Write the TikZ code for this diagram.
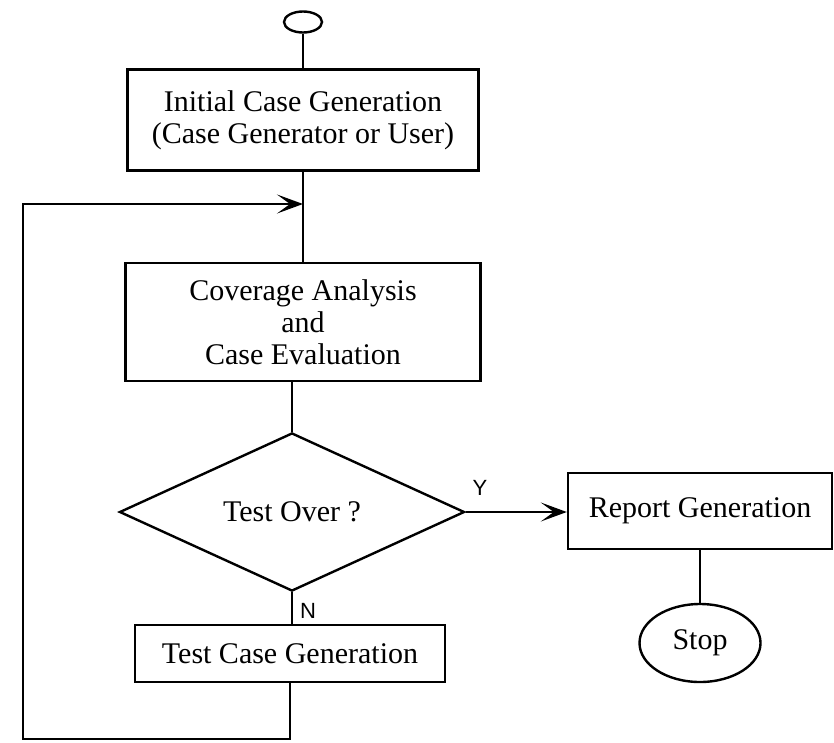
\documentclass[tikz,border=0pt]{standalone}
\usepackage{fontspec}
\setmainfont{Liberation Serif}
\newfontfamily\labelfont{Liberation Sans}
\usetikzlibrary{shapes.geometric,arrows.meta}

\tikzset{
    box/.style={draw, line width=2.4pt, inner sep=0pt, align=center,
        font=\fontsize{30}{32}\selectfont},
    flow/.style={line width=2.4pt},
    flowarrow/.style={flow, -{Stealth[length=26pt,width=19pt,inset=13pt]}},
    yn/.style={font=\labelfont\fontsize{22}{24}\selectfont},
}

\begin{document}
\begin{tikzpicture}[x=1pt,y=-1pt]
    \useasboundingbox (0,0) rectangle (834,742);

    % Start terminal and the first box
    \node[box, ellipse, minimum width=38pt, minimum height=21pt] (start) at (303,22) {};
    \node[box, minimum width=351pt, minimum height=101pt] (init) at (303,120)
        {Initial Case Generation\\(Case Generator or User)};

    % Coverage box
    \node[box, minimum width=355pt, minimum height=118pt] (cover) at (303,322)
        {Coverage Analysis\\and\\Case Evaluation};

    % Decision
    \node[box, diamond, minimum width=345pt, minimum height=153pt] (over) at (292,512)
        {Test Over ?};

    % Report branch
    \node[box, minimum width=264pt, minimum height=76pt] (report) at (700,511)
        {Report Generation};
    \node[box, ellipse, minimum width=121pt, minimum height=78pt] (stop) at (700,643)
        {Stop};

    % Loop branch
    \node[box, minimum width=310pt, minimum height=57pt] (testgen) at (290,653.5)
        {Test Case Generation};

    % Labels on the two exits
    \node[yn] (yes) at (480,488) {Y};
    \node[yn] (no) at (308,611) {N};

    % Connectors
    \draw[flow] (start.south) -- (init.north);
    \draw[flow] (init.south) -- (cover.north);
    \draw[flow] (cover.south -| over.north) -- (over.north);
    \draw[flowarrow] (over.east) -- (over.east -| report.west);
    \draw[flow] (report.south) -- (stop.north);
    \draw[flow] (over.south) -- (over.south |- testgen.north);

    % Feedback back into the main line
    \coordinate (lowleft) at (23,739);
    \coordinate (join) at (303,204);
    \draw[flowarrow] (testgen.south) |- (lowleft) |- (join);
\end{tikzpicture}
\end{document}
